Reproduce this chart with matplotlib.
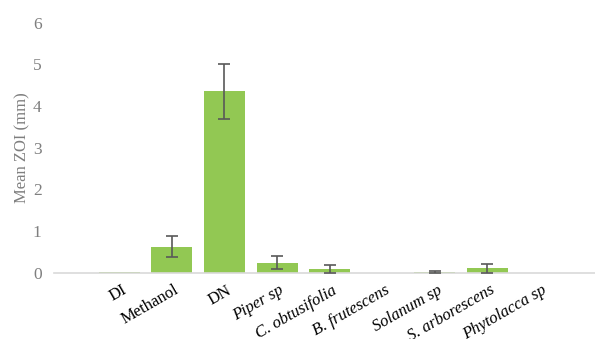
import matplotlib
matplotlib.use("Agg")
import matplotlib.pyplot as plt

# donnees
categories = ["DI", "Methanol", "DN", "Piper sp", "C. obtusifolia", "B. frutescens",
              "Solanum sp", "S. arborescens", "Phytolacca sp"]
italique = [False, False, False, True, True, True, True, True, True]
moyennes = [0.01, 0.62, 4.35, 0.24, 0.09, 0.0, 0.01, 0.10, 0.0]
erreurs = [0.0, 0.25, 0.66, 0.16, 0.09, 0.0, 0.02, 0.10, 0.0]

plt.rcParams['font.family'] = ['Liberation Serif', 'DejaVu Serif']

fig = plt.figure(figsize=(5.95, 3.39), dpi=100)
ax = fig.add_axes([0.091, 0.196, 0.909, 0.737])

x = list(range(len(categories)))
ax.bar(x, moyennes, width=0.78, color='#92C853', zorder=2)
# barres d'erreur seulement la ou elles existent
xe = [x[i] for i in x if erreurs[i] > 0]
ye = [moyennes[i] for i in x if erreurs[i] > 0]
ee = [erreurs[i] for i in x if erreurs[i] > 0]
ax.errorbar(xe, ye, yerr=ee, fmt='none', ecolor='#595959',
            elinewidth=1.2, capsize=4, capthick=1.2, zorder=3)

ax.set_xlim(-1.24, 9.05)
ax.set_ylim(0, 6)
ax.set_yticks(range(7))
ax.tick_params(axis='y', length=0, labelcolor='#7f7f7f', labelsize=12.5, pad=9)
ax.tick_params(axis='x', length=0, pad=7)
ax.set_xticks(x)
ax.set_xticklabels(categories, rotation=30, ha='right', rotation_mode='anchor', fontsize=12)
for lab, it in zip(ax.get_xticklabels(), italique):
    if it:
        lab.set_style('italic')
    lab.set_transform(lab.get_transform() + matplotlib.transforms.ScaledTranslation(0.02, 0, fig.dpi_scale_trans))

for s in ['top', 'right', 'left']:
    ax.spines[s].set_visible(False)
ax.spines['bottom'].set_color('#d9d9d9')
ax.spines['bottom'].set_linewidth(1.2)

ax.set_ylabel("Mean ZOI (mm)", color='#7f7f7f', fontsize=12, labelpad=2)

fig.savefig("out.png", dpi=100)
plt.close()
